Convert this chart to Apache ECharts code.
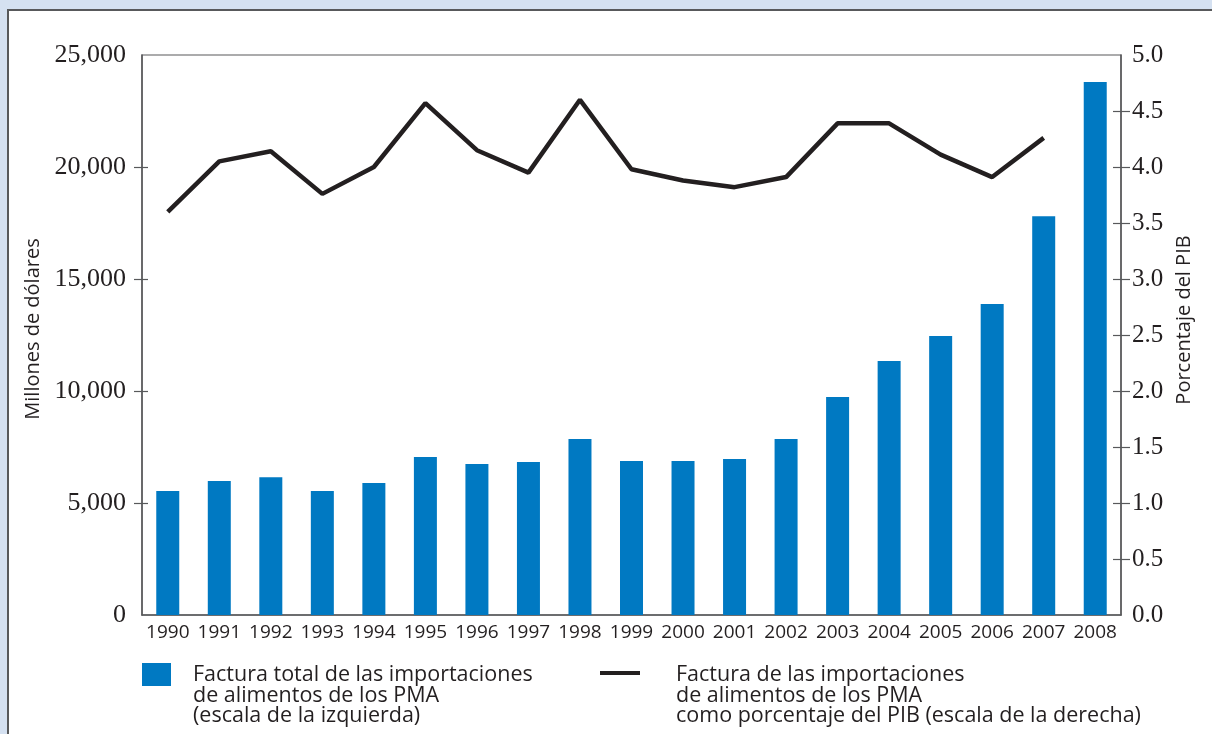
<!DOCTYPE html>
<html>
<head>
<meta charset="utf-8">
<script src="https://cdn.jsdelivr.net/npm/echarts@6/dist/echarts.min.js"></script>
<style>
html,body{margin:0;padding:0;background:#d5e1f1;}
#chart{width:1212px;height:734px;}
</style>
</head>
<body>
<div id="chart"></div>
<script>
const years = ['1990','1991','1992','1993','1994','1995','1996','1997','1998','1999','2000','2001','2002','2003','2004','2005','2006','2007','2008'];
const importBill = [5540, 5980, 6150, 5540, 5890, 7050, 6740, 6830, 7860, 6875, 6875, 6960, 7860, 9730, 11340, 12450, 13880, 17800, 23800];
const pctGDP = [3.60, 4.05, 4.14, 3.76, 4.00, 4.57, 4.15, 3.95, 4.60, 3.98, 3.88, 3.82, 3.91, 4.39, 4.39, 4.11, 3.91, 4.26, null];
const leftTicks = [0, 5000, 10000, 15000, 20000, 25000];
const rightTicks = [0, 0.5, 1.0, 1.5, 2.0, 2.5, 3.0, 3.5, 4.0, 4.5, 5.0];
const leftTitle = 'Millones de dólares';
const rightTitle = 'Porcentaje del PIB';
const legendBar = 'Factura total de las importaciones\nde alimentos de los PMA\n(escala de la izquierda)';
const legendLine = 'Factura de las importaciones\nde alimentos de los PMA\ncomo porcentaje del PIB (escala de la derecha)';

const BAR = '#0079c2';
const INK = '#231f20';
const AX = '#58595b';
const SANS = '"Open Sans", sans-serif';
const SERIF = '"Liberation Serif", serif';

const chart = echarts.init(document.getElementById('chart'));
const fmtLeft = v => v === 0 ? '0' : String(v).replace(/\B(?=(\d{3})+(?!\d))/g, ',');
const inner = arr => arr.slice(1, arr.length - 1);

chart.setOption({
  backgroundColor: '#d5e1f1',
  animation: false,
  graphic: [
    {type:'rect', z:-10, shape:{x:8, y:10, width:1240, height:760}, style:{fill:'#ffffff', stroke:AX, lineWidth:2}},
    {type:'rect', shape:{x:142, y:663, width:29, height:23}, style:{fill:BAR}},
    {type:'text', x:193, y:665, style:{text:legendBar, font:'21.5px ' + SANS, fill:INK, lineHeight:20.5, verticalAlign:'top', align:'left'}},
    {type:'rect', shape:{x:600, y:671, width:40, height:4}, style:{fill:INK}},
    {type:'text', x:676, y:665, style:{text:legendLine, font:'21.5px ' + SANS, fill:INK, lineHeight:20.5, verticalAlign:'top', align:'left'}}
  ],
  grid: {left:142, right:91, top:55, bottom:119, show:true, borderColor:AX, borderWidth:1.2, backgroundColor:'transparent'},
  xAxis: {
    type:'category', data:years,
    axisLine:{lineStyle:{color:AX, width:1.5}},
    axisTick:{show:false},
    axisLabel:{color:INK, fontFamily:SANS, fontSize:19, margin:8, interval:0}
  },
  yAxis: [
    {type:'value', position:'left', min:0, max:25000, interval:5000,
     name:leftTitle, nameLocation:'middle', nameRotate:90, nameGap:93,
     nameTextStyle:{color:INK, fontFamily:SANS, fontSize:20, padding:[0,0,0,12]},
     axisLine:{show:true, lineStyle:{color:AX, width:1.5}},
     axisTick:{show:true, length:8, customValues:inner(leftTicks), lineStyle:{color:AX, width:1.2}},
     axisLabel:{color:INK, fontFamily:SERIF, fontSize:26, margin:16, formatter:fmtLeft, padding:[0,0,5,0]},
     splitLine:{show:false}},
    {type:'value', position:'right', min:0, max:5, interval:0.5,
     name:rightTitle, nameLocation:'middle', nameRotate:90, nameGap:53,
     nameTextStyle:{color:INK, fontFamily:SANS, fontSize:20, padding:[0,0,0,30]},
     axisLine:{show:true, lineStyle:{color:AX, width:1.5}},
     axisTick:{show:true, length:9, customValues:inner(rightTicks), lineStyle:{color:AX, width:1.2}},
     axisLabel:{color:INK, fontFamily:SERIF, fontSize:25, margin:11, formatter:v => v.toFixed(1), padding:[0,0,5,0]},
     splitLine:{show:false}},
    {type:'value', position:'left', offset:0, min:0, max:25000, interval:5000,
     axisLine:{show:false}, axisLabel:{show:false}, splitLine:{show:false},
     axisTick:{show:true, inside:true, length:6, customValues:inner(leftTicks), lineStyle:{color:AX, width:1.2}}},
    {type:'value', position:'right', offset:0, min:0, max:5, interval:0.5,
     axisLine:{show:false}, axisLabel:{show:false}, splitLine:{show:false},
     axisTick:{show:true, inside:true, length:8, customValues:inner(rightTicks), lineStyle:{color:AX, width:1.2}}}
  ],
  series: [
    {name:'Factura total de las importaciones de alimentos de los PMA', type:'bar', yAxisIndex:0, data:importBill, barWidth:23, itemStyle:{color:BAR}},
    {name:'Factura de las importaciones de alimentos de los PMA como porcentaje del PIB', type:'line', yAxisIndex:1, data:pctGDP, symbol:'none', lineStyle:{color:INK, width:4.5}, z:3}
  ]
});
</script>
</body>
</html>
